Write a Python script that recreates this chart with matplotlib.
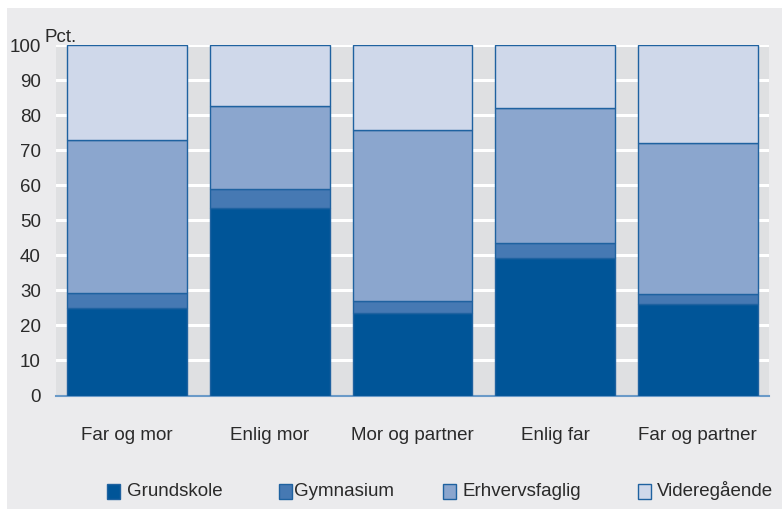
import matplotlib
matplotlib.use("Agg")
import matplotlib.pyplot as plt
from matplotlib.patches import Rectangle
import numpy as np

categories = ["Far og mor", "Enlig mor", "Mor og partner", "Enlig far", "Far og partner"]
series_names = ["Grundskole", "Gymnasium", "Erhvervsfaglig", "Videregående"]
grundskole = [25.0, 53.5, 23.5, 39.2, 26.1]
gymnasium = [4.2, 5.4, 3.5, 4.3, 2.9]
erhvervsfaglig = [43.7, 23.7, 48.8, 38.5, 43.0]
videregaende = [27.1, 17.4, 24.2, 18.0, 28.0]
yticks = [0, 10, 20, 30, 40, 50, 60, 70, 80, 90, 100]

colors = ["#005598", "#4679b3", "#8ba6ce", "#cfd8ea"]
edge = "#1f62a0"
txt = "#2a2a2a"
fs = 13.5

plt.rcParams['font.family'] = ['Liberation Sans', 'DejaVu Sans']

W, H = 782, 509
fig = plt.figure(figsize=(W / 100, H / 100), dpi=100, facecolor="white")
fig.patches.append(Rectangle((7 / W, 0), 1 - 7 / W, 1 - 8 / H, transform=fig.transFigure,
                             facecolor="#ebebed", edgecolor="none", zorder=-10))

ax = fig.add_axes([56 / W, 1 - 395.5 / H, (769 - 56) / W, (395.5 - 45) / H])
ax.set_facecolor("#dfe0e2")

x = np.arange(len(categories))
data = [grundskole, gymnasium, erhvervsfaglig, videregaende]
bottom = np.zeros(len(categories))
for name, vals, c in zip(series_names, data, colors):
    ax.bar(x, vals, bottom=bottom, width=0.84, color=c, edgecolor=edge, linewidth=1.0,
           label=name, zorder=3)
    bottom += np.array(vals)

ax.set_xlim(-0.5, len(categories) - 0.5)
ax.set_ylim(0, 100)
ax.set_yticks(yticks)
ax.set_yticklabels([str(t) for t in yticks], fontsize=fs, color=txt)
ax.set_xticks(x)
ax.set_xticklabels(categories, fontsize=fs, color=txt)
ax.tick_params(axis="both", length=0)
ax.tick_params(axis="y", pad=11)
ax.tick_params(axis="x", pad=23)
ax.yaxis.grid(True, color="white", linewidth=2.2, zorder=0)
ax.set_axisbelow(True)
for s in ["top", "left", "right"]:
    ax.spines[s].set_visible(False)
ax.spines["bottom"].set_color("#6a9ac8")
ax.spines["bottom"].set_linewidth(1.5)

fig.text(44 / W, 1 - 42 / H, "Pct.", fontsize=fs, color=txt, ha="left", va="baseline")

# manual legend
marker_x = [107, 279, 443, 638]
text_x = [127, 294, 463, 657]
yc = 491
for name, c, mx, tx in zip(series_names, colors, marker_x, text_x):
    fig.patches.append(Rectangle((mx / W, 1 - (yc + 7.5) / H), 13 / W, 15 / H,
                                 transform=fig.transFigure, facecolor=c, edgecolor=edge,
                                 linewidth=1.0, zorder=5))
    fig.text(tx / W, 1 - yc / H, name, fontsize=fs, color=txt, ha="left", va="center")

fig.savefig("out.png", dpi=100, facecolor=fig.get_facecolor())
